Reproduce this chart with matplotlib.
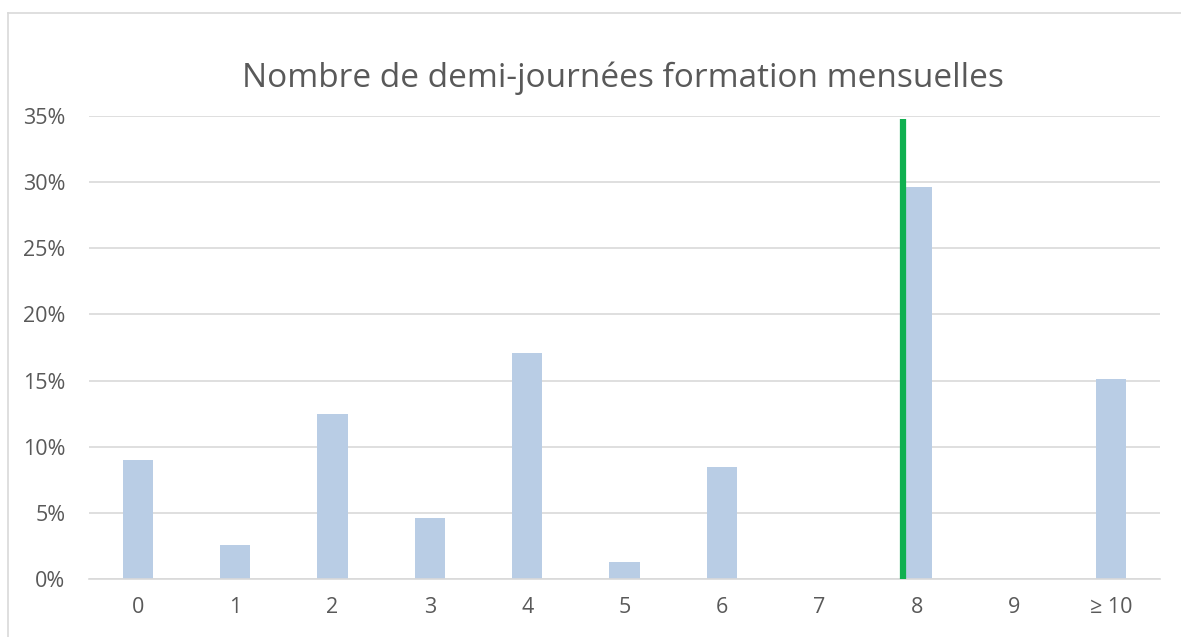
import numpy as np
import matplotlib.pyplot as plt
from matplotlib.lines import Line2D
from matplotlib.ticker import PercentFormatter

plt.rcParams['font.family'] = ['Open Sans', 'DejaVu Sans']

# donnees
categories = ['0', '1', '2', '3', '4', '5', '6', '7', '8', '9', '≥ 10']
values = [9.0, 2.6, 12.5, 4.6, 17.1, 1.3, 8.5, 0.0, 29.6, 0.0, 15.1]
marker_x = 7.86
marker_top = 34.8
title = 'Nombre de demi-journées formation mensuelles'

grey = '#595959'

fig = plt.figure(figsize=(11.81, 6.37), dpi=100)
ax = fig.add_axes([0.0754, 0.0911, 0.9068, 0.7268])

x = np.arange(len(categories))
ax.bar(x, values, width=0.31, color='#b9cde5', zorder=2)
ax.vlines(marker_x, 0, marker_top, color='#10b050', linewidth=4.5, zorder=3)

ax.set_xlim(-0.5, len(categories) - 0.5)
ax.set_ylim(0, 35)
ax.set_yticks(np.arange(0, 36, 5))
ax.yaxis.set_major_formatter(PercentFormatter(decimals=0))
ax.set_xticks(x)
ax.set_xticklabels(categories)
ax.grid(axis='y', color='#d9d9d9', linewidth=1.2, zorder=0)
for s in ['top', 'right', 'left']:
    ax.spines[s].set_visible(False)
ax.spines['bottom'].set_color('#d9d9d9')
ax.spines['bottom'].set_linewidth(1.2)
ax.tick_params(axis='both', length=0, labelsize=15.5, labelcolor=grey)
ax.tick_params(axis='y', pad=17)
ax.tick_params(axis='x', pad=13)

fig.text(0.5275, 0.877, title, ha='center', va='center', fontsize=24, color=grey)

# bordure du graphique
fig.add_artist(Line2D([0.0068, 0.0068], [0, 0.98], transform=fig.transFigure, color='#d9d9d9', linewidth=1.2))
fig.add_artist(Line2D([0.0068, 1.0], [0.98, 0.98], transform=fig.transFigure, color='#d9d9d9', linewidth=1.2))

fig.savefig('out.png', dpi=100, facecolor='white')
